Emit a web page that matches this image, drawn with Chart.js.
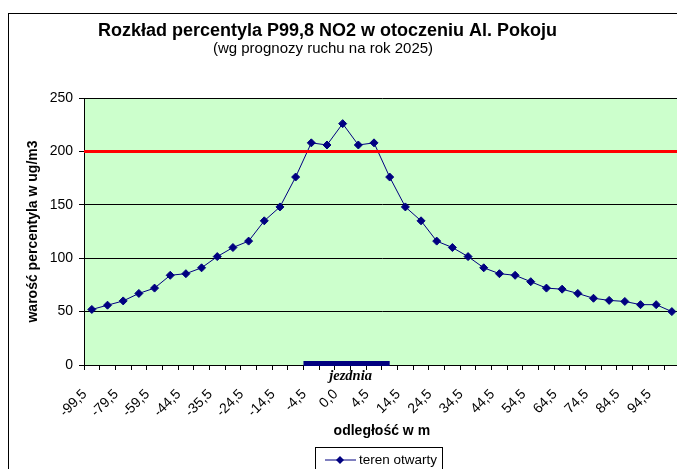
<!DOCTYPE html>
<html>
<head>
<meta charset="utf-8">
<script src="https://cdn.jsdelivr.net/npm/chart.js@4.4.1/dist/chart.umd.min.js"></script>
<style>
  html, body { margin: 0; padding: 0; overflow: hidden; background: #fff; }
  #wrap { position: absolute; left: 0; top: 0; width: 700px; height: 469px; }
  canvas { display: block; }
</style>
</head>
<body>
<div id="wrap"><canvas id="c" width="700" height="469" style="width:700px;height:469px"></canvas></div>
<script>
// ---- data ----
const categories = [
  '-99,5','-89,5','-79,5','-69,5','-59,5','-49,5','-44,5','-39,5','-35,5','-29,5',
  '-24,5','-19,5','-14,5','-9,5','-4,5','-2,0','0,0','2,0','4,5','9,5',
  '14,5','19,5','24,5','29,5','34,5','39,5','44,5','49,5','54,5','59,5',
  '64,5','69,5','74,5','79,5','84,5','89,5','94,5','99,5'
];
const terenOtwarty = [
  52, 56, 60, 67, 72, 84, 85.5, 91, 101.5, 110,
  116, 135, 148, 176, 208, 206, 226, 206, 208, 176,
  148, 135, 116, 110, 101.5, 91, 85.5, 84, 78, 72,
  71, 67, 62.5, 60.5, 59.5, 56.5, 56.5, 50
];
const yTicks = [0, 50, 100, 150, 200, 250];
const limitValue = 200;          // red reference line
const roadFrom = 13.5;           // "jezdnia" bar, in category units
const roadTo = 19;

const titleText = 'Rozkład percentyla P99,8 NO2 w otoczeniu Al. Pokoju';
const subtitleText = '(wg prognozy ruchu na rok 2025)';
const xTitle = 'odległość w m';
const yTitle = 'warość percentyla w ug/m3';
const seriesLabel = 'teren otwarty';
const roadLabel = 'jezdnia';

const FONT = "'Liberation Sans', Arial, sans-serif";
const NAVY = '#000080';

Chart.defaults.font.family = FONT;
Chart.defaults.color = '#000';

const decor = {
  id: 'decor',
  beforeDraw(chart) {
    const {ctx, chartArea: a} = chart;
    ctx.save();
    ctx.fillStyle = '#fff';
    ctx.fillRect(0, 0, chart.width, chart.height);
    ctx.strokeStyle = '#000';
    ctx.lineWidth = 1;
    ctx.strokeRect(8.5, 13.5, 1000, 1000);
    ctx.fillStyle = '#CCFFCC';
    ctx.fillRect(a.left, a.top, a.right - a.left, a.bottom - a.top);
    ctx.restore();
  },
  afterDatasetsDraw(chart) {
    const {ctx, chartArea: a, scales: {y}} = chart;
    const py = y.getPixelForValue(limitValue);
    ctx.save();
    ctx.strokeStyle = '#FF0000';
    ctx.lineWidth = 3;
    ctx.beginPath();
    ctx.moveTo(a.left, py);
    ctx.lineTo(a.right, py);
    ctx.stroke();
    ctx.restore();
  },
  afterDraw(chart) {
    const {ctx, scales: {x, y}} = chart;
    ctx.save();
    // road bar
    const x1 = x.getPixelForValue(roadFrom), x2 = x.getPixelForValue(roadTo);
    const y0 = y.getPixelForValue(0);
    ctx.fillStyle = NAVY;
    ctx.fillRect(x1, y0 - 4, x2 - x1, 5);
    // road label
    ctx.fillStyle = '#000';
    ctx.font = "italic bold 14.5px 'Liberation Serif', 'Times New Roman', serif";
    ctx.textAlign = 'center';
    ctx.textBaseline = 'alphabetic';
    ctx.fillText(roadLabel, (x1 + x2) / 2 + 4, y0 + 15);
    // titles
    ctx.font = 'bold 18px ' + FONT;
    ctx.textBaseline = 'alphabetic';
    ctx.fillText(titleText, 327.5, 36);
    ctx.font = '15px ' + FONT;
    ctx.fillText(subtitleText, 323, 53);
    // legend
    ctx.fillStyle = '#fff';
    ctx.fillRect(315.5, 447.5, 127, 40);
    ctx.strokeStyle = '#000';
    ctx.lineWidth = 1;
    ctx.strokeRect(315.5, 447.5, 127, 40);
    const ly = 460;
    ctx.strokeStyle = NAVY;
    ctx.beginPath();
    ctx.moveTo(325, ly); ctx.lineTo(356, ly); ctx.stroke();
    ctx.fillStyle = NAVY;
    ctx.beginPath();
    ctx.moveTo(340, ly - 4); ctx.lineTo(344, ly); ctx.lineTo(340, ly + 4); ctx.lineTo(336, ly);
    ctx.closePath(); ctx.fill();
    ctx.fillStyle = '#000';
    ctx.font = '13.5px ' + FONT;
    ctx.textAlign = 'left';
    ctx.textBaseline = 'middle';
    ctx.fillText(chart.data.datasets[0].label, 359, ly);
    ctx.restore();
  }
};

new Chart(document.getElementById('c'), {
  type: 'line',
  data: {
    labels: categories,
    datasets: [{
      label: seriesLabel,
      data: terenOtwarty,
      borderColor: NAVY,
      backgroundColor: NAVY,
      borderWidth: 1,
      pointStyle: 'rectRot',
      pointRadius: 4,
      pointHoverRadius: 4,
      pointBackgroundColor: NAVY,
      pointBorderColor: NAVY,
      pointBorderWidth: 1,
      tension: 0,
      fill: false
    }]
  },
  options: {
    responsive: false,
    animation: false,
    events: [],
    layout: { padding: { top: 98, left: 21, right: 20, bottom: 27 } },
    plugins: {
      legend: { display: false },
      title: { display: false },
      tooltip: { enabled: false }
    },
    scales: {
      x: {
        type: 'category',
        offset: true,
        grid: { offset: true, drawOnChartArea: false, drawTicks: true, tickLength: 5, color: '#000' },
        border: { color: '#000', width: 1 },
        ticks: {
          autoSkip: false,
          maxRotation: 45,
          minRotation: 45,
          padding: 16,
          labelOffset: -7,
          font: { size: 14 },
          callback: (v, i) => (i % 2 === 0 ? categories[i] : '')
        },
        title: { display: true, text: xTitle, font: { size: 14, weight: 'bold' }, padding: { top: 4, bottom: 2 } },
        afterFit: s => { s.height = 77; }
      },
      y: {
        min: 0,
        max: 250,
        afterBuildTicks: s => { s.ticks = yTicks.map(v => ({ value: v })); },
        grid: { color: '#000', lineWidth: 1, tickLength: 5, drawTicks: true },
        border: { color: '#000', width: 1 },
        ticks: { padding: 6, font: { size: 14 } },
        title: { display: true, text: yTitle, font: { size: 14, weight: 'bold' }, padding: { top: 4, bottom: 0 } },
        afterFit: s => { s.width = 63; }
      }
    }
  },
  plugins: [decor]
});
</script>
</body>
</html>
